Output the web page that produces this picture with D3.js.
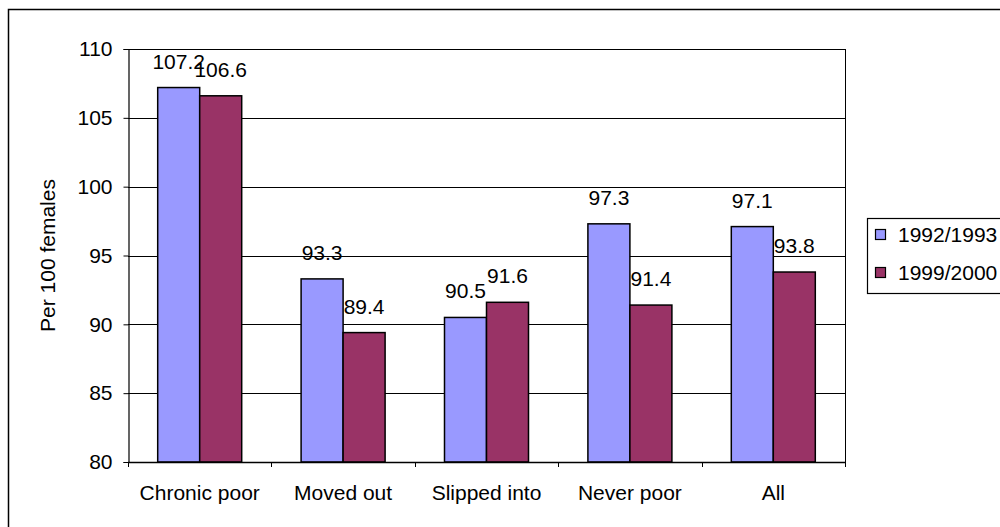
<!DOCTYPE html>
<html>
<head>
<meta charset="utf-8">
<script src="https://cdn.jsdelivr.net/npm/d3@7"></script>
<style>
  html, body { margin: 0; padding: 0; background: #fff; }
  svg { display: block; }
  text { font-family: "Liberation Sans", Arial, sans-serif; fill: #000; }
</style>
</head>
<body>
<svg id="chart" width="1000" height="527"></svg>
<script>
// Sex ratio (males per 100 females) by poverty status
const categories = ["Chronic poor", "Moved out", "Slipped into", "Never poor", "All"];
const seriesNames = ["1992/1993", "1999/2000"];
const values1992 = [107.2, 93.3, 90.5, 97.3, 97.1];
const values1999 = [106.6, 89.4, 91.6, 91.4, 93.8];
const yTicks = [80, 85, 90, 95, 100, 105, 110];
const colors = ["#9999FF", "#993366"];

const svg = d3.select("#chart");
const plot = { left: 128, right: 845, top: 49, bottom: 462 };
const fontSize = 21;

// Outer chart frame
svg.append("rect")
  .attr("x", 8.5).attr("y", 9.5)
  .attr("width", 1100).attr("height", 600)
  .attr("fill", "none").attr("stroke", "#000").attr("stroke-width", 1.5);

const x = d3.scaleBand().domain(categories).range([plot.left, plot.right]).paddingInner(0).paddingOuter(0);
const y = d3.scaleLinear().domain([80, 110]).range([plot.bottom, plot.top]);

const groupWidth = 84;
const xs = d3.scaleBand().domain(seriesNames).range([0, groupWidth]);

// Horizontal gridlines
svg.append("g").selectAll("line").data(yTicks.filter(t => t > 80)).join("line")
  .attr("x1", plot.left).attr("x2", plot.right)
  .attr("y1", d => Math.round(y(d)) + 0.5).attr("y2", d => Math.round(y(d)) + 0.5)
  .attr("stroke", "#000").attr("stroke-width", 1);

// Right edge of plot area
svg.append("line")
  .attr("x1", plot.right + 0.5).attr("x2", plot.right + 0.5)
  .attr("y1", plot.top).attr("y2", plot.bottom)
  .attr("stroke", "#000").attr("stroke-width", 1);

// Bars
const series = [values1992, values1999];
series.forEach((vals, si) => {
  svg.append("g").selectAll("rect").data(categories).join("rect")
    .attr("x", (c) => x(c) + (x.bandwidth() - groupWidth) / 2 + xs(seriesNames[si]))
    .attr("y", (c, i) => y(vals[i]))
    .attr("width", xs.bandwidth())
    .attr("height", (c, i) => y(80) - y(vals[i]))
    .attr("fill", colors[si])
    .attr("stroke", "#000").attr("stroke-width", 1.5);
});

// Value labels
series.forEach((vals, si) => {
  svg.append("g").selectAll("text").data(categories).join("text")
    .attr("x", (c) => x(c) + (x.bandwidth() - groupWidth) / 2 + xs(seriesNames[si]) + xs.bandwidth() / 2)
    .attr("y", (c, i) => y(vals[i]) - 19)
    .attr("text-anchor", "middle")
    .attr("font-size", fontSize)
    .text((c, i) => vals[i].toFixed(1));
});

// Y axis
const yAxis = d3.axisLeft(y).tickValues(yTicks).tickSize(5).tickPadding(11).tickFormat(d3.format("d"));
const gy = svg.append("g").attr("transform", `translate(${plot.left + 0.5},0)`).call(yAxis);
gy.select(".domain").attr("stroke", "#000").attr("stroke-width", 1.2);
gy.selectAll(".tick line").attr("stroke", "#000");
gy.selectAll(".tick text").attr("font-size", fontSize).attr("font-family", "Liberation Sans, Arial, sans-serif").attr("fill", "#000");

// X axis with ticks on category boundaries
svg.append("line")
  .attr("x1", plot.left).attr("x2", plot.right + 1)
  .attr("y1", plot.bottom + 0.5).attr("y2", plot.bottom + 0.5)
  .attr("stroke", "#000").attr("stroke-width", 1.5);
const boundaries = categories.map(c => x(c)).concat([plot.right]);
svg.append("g").selectAll("line").data(boundaries).join("line")
  .attr("x1", d => Math.round(d) + 0.5).attr("x2", d => Math.round(d) + 0.5)
  .attr("y1", plot.bottom).attr("y2", plot.bottom + 5)
  .attr("stroke", "#000");
svg.append("g").selectAll("text").data(categories).join("text")
  .attr("x", c => x(c) + x.bandwidth() / 2)
  .attr("y", 500)
  .attr("text-anchor", "middle")
  .attr("font-size", fontSize)
  .text(c => c);

// Y axis title
svg.append("text")
  .attr("transform", `translate(55,${(plot.top + plot.bottom) / 2}) rotate(-90)`)
  .attr("text-anchor", "middle")
  .attr("font-size", fontSize)
  .text("Per 100 females");

// Legend
const legend = svg.append("g");
legend.append("rect")
  .attr("x", 867.5).attr("y", 218.5).attr("width", 200).attr("height", 75)
  .attr("fill", "#fff").attr("stroke", "#000").attr("stroke-width", 1.2);
seriesNames.forEach((name, i) => {
  legend.append("rect")
    .attr("x", 875.5).attr("y", 229.5 + i * 38).attr("width", 10).attr("height", 10)
    .attr("fill", colors[i]).attr("stroke", "#000").attr("stroke-width", 1.2);
  legend.append("text")
    .attr("x", 898).attr("y", 242 + i * 38)
    .attr("font-size", fontSize)
    .text(name);
});
</script>
</body>
</html>
